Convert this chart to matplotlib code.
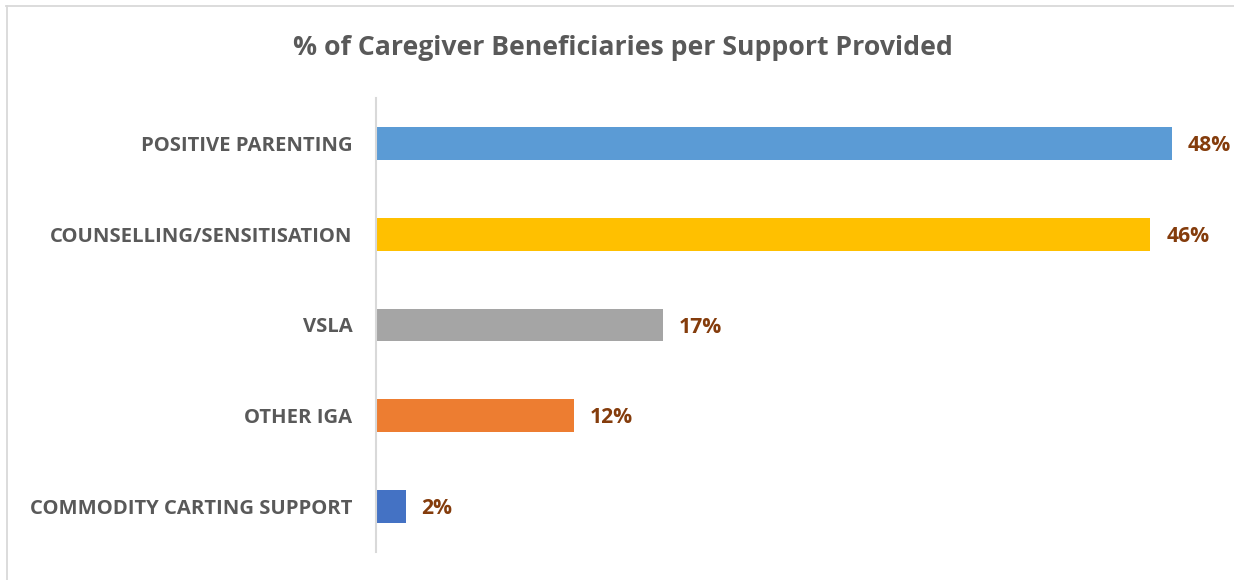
import matplotlib
matplotlib.use("Agg")
import matplotlib.pyplot as plt
from matplotlib.lines import Line2D

categories = ["POSITIVE PARENTING", "COUNSELLING/SENSITISATION", "VSLA",
              "OTHER IGA", "COMMODITY CARTING SUPPORT"]
values = [47.7, 46.4, 17.2, 11.9, 1.8]
colors = ["#5B9BD5", "#FFC000", "#A5A5A5", "#ED7D31", "#4472C4"]
title = "% of Caregiver Beneficiaries per Support Provided"

W, H = 1234, 580
fig = plt.figure(figsize=(W / 100, H / 100), dpi=100)
fig.patch.set_facecolor("white")

left_px, right_px, top_px, bot_px = 375.5, 375.5 + 16.7 * 50, 98, 552
ax = fig.add_axes([left_px / W, 1 - bot_px / H, (right_px - left_px) / W, (bot_px - top_px) / H])

font = "Open Sans"
y = list(range(len(categories)))
ax.barh(y, values, height=0.36, color=colors)
ax.set_xlim(0, 50)
ax.set_ylim(len(categories) - 0.5, -0.5)
ax.set_yticks(y)
ax.set_yticklabels(categories, fontsize=14.6, fontweight="bold", color="#595959",
                   fontfamily=font)
ax.tick_params(axis="y", length=0, pad=16.5)
ax.set_xticks([])
for s in ["top", "right", "bottom"]:
    ax.spines[s].set_visible(False)
ax.spines["left"].set_color("#D9D9D9")
ax.spines["left"].set_linewidth(1.5)

for yi, v in zip(y, values):
    ax.annotate(f"{round(v)}%", xy=(v, yi), xytext=(11.5, -1.5), textcoords="offset points",
                ha="left", va="center", fontsize=15.2, fontweight="bold",
                color="#843C0C", fontfamily=font)

fig.text(623 / W, 1 - 48 / H, title, ha="center", va="center", fontsize=19.2,
         fontweight="bold", color="#595959", fontfamily=font)

fig.add_artist(Line2D([6 / W, 1], [1 - 6 / H, 1 - 6 / H], color="#D9D9D9", lw=1.3,
                      transform=fig.transFigure))
fig.add_artist(Line2D([6.5 / W, 6.5 / W], [0, 1 - 6 / H], color="#D9D9D9", lw=1.3,
                      transform=fig.transFigure))

fig.savefig("out.png", dpi=100)
